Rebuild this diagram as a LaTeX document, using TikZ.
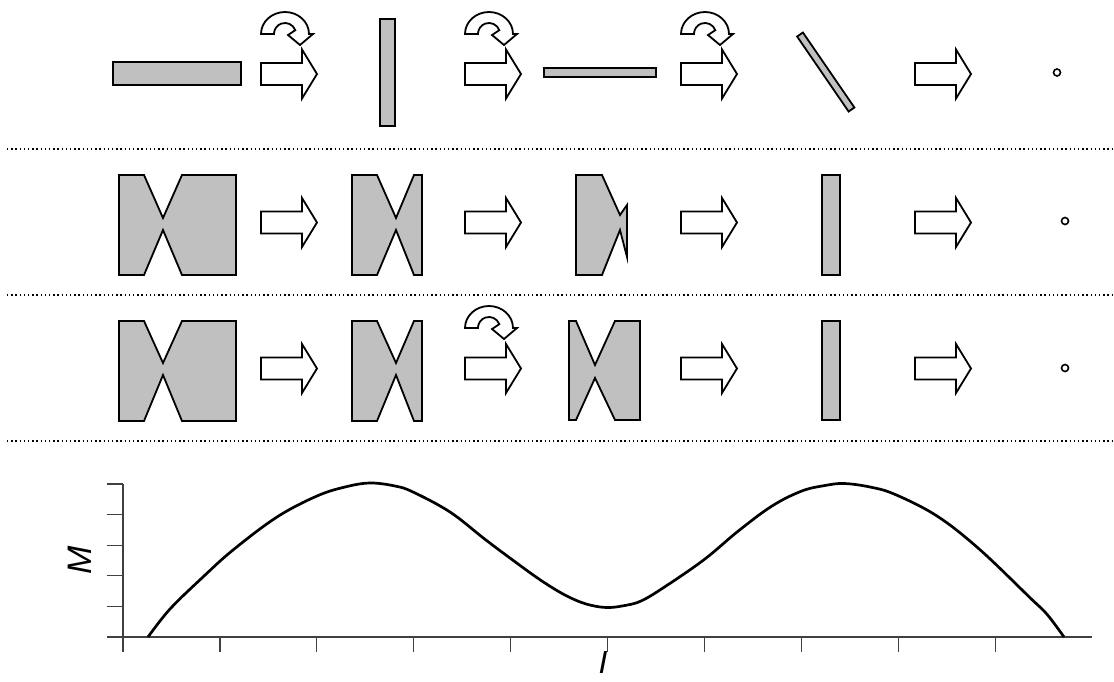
\documentclass[tikz,border=0pt]{standalone}
\usepackage{fontspec}
\setmainfont{Liberation Sans}
\definecolor{fillgray}{HTML}{C0C0C0}
\definecolor{axisgray}{HTML}{404040}
\tikzset{
  piece/.style={fill=fillgray, draw=black, line width=1.8pt, line join=miter},
  blockarrow/.style={fill=white, draw=black, line width=1.8pt, line join=miter},
  sepline/.style={line width=1.3pt, dash pattern=on 1.3pt off 2.9pt},
  axisline/.style={draw=axisgray, line width=1.2pt},
  curveline/.style={line width=2.7pt, line join=round},
  dotmark/.style={draw=black, line width=1.6pt, fill=white},
  lab/.style={font=\fontsize{34}{40}\selectfont\itshape, inner sep=0pt}
}
\newcommand\myblockarrow[2]{\draw[blockarrow,shift={(#1,#2)}] (0,-11) -- (41,-11) -- (41,-24.5) -- (56,0) -- (41,24.5) -- (41,11) -- (0,11) -- cycle;}
\newcommand\myturnarrow[2]{\draw[blockarrow,shift={(#1,#2)}] (-24,0) arc[start angle=180,end angle=360,x radius=24,y radius=22] -- (28,0) -- (15,11) -- (3,1) -- (10.3,-3.8) arc[start angle=-20,end angle=-180,radius=11] -- cycle;}
\begin{document}
\begin{tikzpicture}[x=1pt,y=-1pt]
\useasboundingbox (0,0) rectangle (1114,681);
% Row 1
\draw[piece] (113,62) rectangle (241,85);
\myturnarrow{285}{34}
\myblockarrow{261}{74}
\draw[piece] (380,19) rectangle (395,126);
\myturnarrow{489}{34}
\myblockarrow{465}{74}
\draw[piece] (544,68) rectangle (656,77);
\myturnarrow{705}{34}
\myblockarrow{681}{74}
\draw[piece] (797.1,36.5) -- (802.9,32.5) -- (854.4,107.5) -- (848.6,111.5) -- cycle;
\myblockarrow{915}{74}
\draw[dotmark] (1057,72.5) circle[radius=3.5];
\draw[sepline] (7,149) -- (1112,149);
% Row 2
\draw[piece] (119,175) -- (144,175) -- (163,218) -- (182,175) -- (236,175) -- (236,275) -- (182,275) -- (163,230) -- (144,275) -- (119,275) -- cycle;
\myblockarrow{261}{222.5}
\draw[piece] (352,175) -- (377,175) -- (396,218) -- (414,175) -- (422,175) -- (422,275) -- (414,275) -- (396,230) -- (377,275) -- (352,275) -- cycle;
\myblockarrow{465}{222.5}
\draw[piece] (576,175) -- (602,175) -- (620,215) -- (627,205) -- (627,257) -- (620,230) -- (602,275) -- (576,275) -- cycle;
\myblockarrow{681}{222.5}
\draw[piece] (822,175) rectangle (840,275);
\myblockarrow{915}{222.5}
\draw[dotmark] (1065,221) circle[radius=3.5];
\draw[sepline] (7,295) -- (1112,295);
% Row 3
\draw[piece] (119,321) -- (144,321) -- (163,363) -- (182,321) -- (236,321) -- (236,421) -- (182,421) -- (163,375) -- (144,421) -- (119,421) -- cycle;
\myblockarrow{261}{368.5}
\draw[piece] (352,321) -- (377,321) -- (396,363) -- (414,321) -- (422,321) -- (422,421) -- (414,421) -- (396,375) -- (377,421) -- (352,421) -- cycle;
\myturnarrow{489}{328}
\myblockarrow{465}{368.5}
\draw[piece] (569,321) -- (576,321) -- (595,365) -- (615,321) -- (640,321) -- (640,420) -- (615,420) -- (595,378) -- (576,420) -- (569,420) -- cycle;
\myblockarrow{681}{368.5}
\draw[piece] (822,321) rectangle (840,420);
\myblockarrow{915}{368.5}
\draw[dotmark] (1065,368) circle[radius=3.5];
\draw[sepline] (7,441) -- (1112,441);
% Plot
\draw[axisline] (123,484) -- (123,652);
\draw[axisline] (107,637) -- (1092,637);
\foreach \yy in {484,514.6,545.2,575.8,606.4} \draw[axisline] (107,\yy) -- (123,\yy);
\foreach \k in {0,...,9} \draw[axisline] ({123+96.9*\k},637) -- ({123+96.9*\k},652);
\draw[curveline] plot[smooth, tension=0.6] coordinates {(148,637) (170,609) (203,577) (233,550) (277,517) (317,496) (345,487) (370,483) (395,486) (413,492) (450,512) (485,539.3) (514,561) (539.4,579.3) (560.7,592.7) (577.7,601) (592,605.5) (607,607.5) (622,606) (641,601) (666,586) (704.5,559.3) (738.3,531) (772,506) (801.8,491) (825,485.5) (844,483.5) (870,487) (894.8,494.3) (937,516) (979.5,549.3) (1030,597.7) (1047,614.3) (1064,637)};
\node[lab, rotate=90] (ylab) at (80,560) {M};
\node[lab, anchor=base, font=\fontsize{32}{38}\selectfont\itshape] (xlab) at (603,673) {I};
\end{tikzpicture}
\end{document}
